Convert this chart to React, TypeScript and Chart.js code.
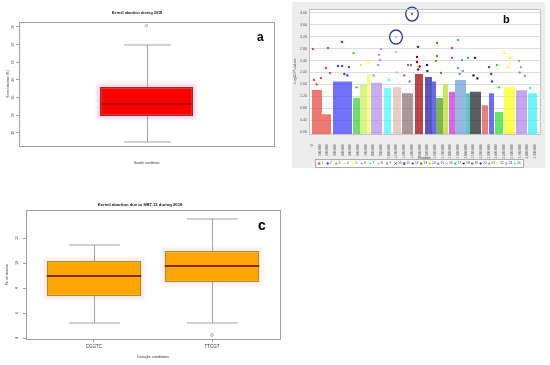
import React, { useEffect, useRef } from "react";
import { Chart, registerables } from "chart.js";
Chart.register(...registerables);

const FONT = "'Liberation Sans', Arial, Helvetica, sans-serif";

// ---------------- Panel a data ----------------
const aTitle = "Kernel abortion during 2018";
const aCategories = [""];
const aYTicks = [10, 20, 30, 40, 50, 60, 70];
const aLow = [4.9];
const aQ1 = [19.6];
const aMedian = [26.4];
const aQ3 = [36.0];
const aHigh = [59.8];
const aOutliers = [70.6];

// ---------------- Panel c data ----------------
const cTitle = "Kernel abortion due to HB7.12 during 2018";
const cGroups = ["CGGTC", "TTCGT"];
const cYTicks = [4, 6, 8, 10, 12];
const cLow = [5.2, 5.2];
const cQ1 = [7.36, 8.48];
const cMedian = [8.96, 9.76];
const cQ3 = [10.16, 10.96];
const cHigh = [11.44, 13.52];
const cOutlierGroup = [2];
const cOutlierValue = [4.24];

// ---------------- Panel b data ----------------
const chromosomes = ["1", "2", "3", "4", "5", "6", "7", "8", "9", "10", "11", "12", "13", "14", "15", "16", "17", "18", "19", "20", "21", "22", "23", "24"];
// dense band of markers per chromosome: [start, end] position (Mb) and upper edge (-log10 p)
const bandChrom = [1, 1, 2, 3, 4, 5, 6, 7, 8, 9, 10, 11, 12, 13, 14, 15, 16, 17, 18, 19, 20, 21, 22, 23, 24];
const bandStart = [0, 130, 273, 533, 624, 715, 767, 936, 1053, 1170, 1339, 1469, 1560, 1612, 1703, 1781, 1859, 2002, 2054, 2210, 2301, 2379, 2496, 2652, 2808];
const bandEnd = [130, 247, 520, 624, 715, 754, 910, 1027, 1157, 1313, 1443, 1560, 1612, 1703, 1768, 1859, 2002, 2054, 2197, 2288, 2366, 2483, 2639, 2795, 2925];
const bandTop = [1.41, 0.6, 1.7, 1.15, 1.6, 1.95, 1.65, 1.48, 1.5, 1.3, 1.95, 1.85, 1.7, 1.14, 1.6, 1.35, 1.75, 1.3, 1.35, 0.9, 1.3, 0.67, 1.5, 1.4, 1.3];
// isolated markers above the bands
const hitChrom = [1, 1, 1, 1, 1, 1, 1, 2, 2, 2, 2, 2, 2, 3, 3, 4, 5, 6, 6, 6, 6, 6, 7, 8, 8, 8, 9, 9, 9, 9, 9, 10, 10, 10, 10, 10, 11, 11, 13, 13, 13, 13, 15, 15, 16, 16, 16, 16, 16, 17, 18, 18, 18, 20, 20, 20, 21, 21, 22, 22, 22, 23, 23, 23, 23, 24];
const hitPos = [13, 208, 26, 117, 234, 182, 60, 390, 338, 392, 481, 420, 460, 540, 580, 637, 728, 897, 871, 860, 884, 800, 1000, 1092, 1092, 1100, 1300, 1248, 1287, 1200, 1270, 1378, 1365, 1365, 1400, 1380, 1495, 1500, 1612, 1625, 1625, 1677, 1820, 1820, 1898, 1898, 1950, 1920, 1960, 2028, 2119, 2100, 2150, 2301, 2330, 2340, 2405, 2430, 2500, 2574, 2548, 2691, 2717, 2769, 2700, 2834];
const hitLogP = [2.79, 2.82, 1.75, 1.81, 1.98, 2.15, 1.6, 3.02, 2.22, 2.22, 2.18, 1.95, 1.9, 2.65, 1.5, 2.25, 2.35, 2.79, 2.59, 2.25, 2.42, 1.9, 1.75, 2.69, 3.19, 2.0, 3.96, 2.25, 2.25, 1.9, 1.7, 2.86, 2.52, 2.35, 2.2, 2.1, 2.25, 2.05, 2.39, 2.55, 2.99, 1.98, 2.82, 2.49, 3.09, 2.15, 2.42, 1.95, 2.05, 2.49, 2.49, 1.9, 1.8, 2.18, 1.95, 1.7, 2.25, 1.5, 2.65, 2.49, 2.18, 2.39, 2.18, 1.88, 2.0, 1.48];
const circledHits = [24, 26];
const bYTicks = [0, 0.2, 0.4, 0.6, 0.8, 1.0, 1.2, 1.4, 1.6, 1.8, 2.0, 2.2, 2.4, 2.6, 2.8, 3.0, 3.2, 3.4, 3.6, 3.8, 4.0];
const bXTicks = [0, 100, 200, 300, 400, 500, 600, 700, 800, 900, 1000, 1100, 1200, 1300, 1400, 1500, 1600, 1700, 1800, 1900, 2000, 2100, 2200, 2300, 2400, 2500, 2600, 2700, 2800, 2900];

// styles
const chrColors = ["#e8453c", "#3b3bff", "#3ccf3c", "#c8f060", "#ffff40", "#b48cf0", "#40ffff", "#e0b8b0", "#8c7070", "#a00000", "#1818a8", "#3030e0", "#4c9a10", "#b8dc20", "#d428d4", "#6c9cd8", "#20b0b0", "#1e1e1e", "#e05048", "#3838f0", "#28e028", "#ffff10", "#b084f0", "#30f0f0"];

function withAlpha(hex: string, a: number) {
  const n = parseInt(hex.slice(1), 16);
  return `rgba(${(n >> 16) & 255},${(n >> 8) & 255},${n & 255},${a})`;
}

type BoxData = { low: number[]; q1: number[]; med: number[]; q3: number[]; high: number[] };

function makeBoxPlugin(d: BoxData, st: { halo: string; whisker: string; median: string; medianWidth: number; capRatio: number }) {
  return {
    id: "boxParts",
    beforeDatasetsDraw(chart: any) {
      const ctx = chart.ctx;
      const meta = chart.getDatasetMeta(0);
      ctx.save();
      ctx.filter = "blur(1.5px)";
      ctx.fillStyle = st.halo;
      meta.data.forEach((bar: any) => {
        const top = Math.min(bar.y, bar.base);
        const bot = Math.max(bar.y, bar.base);
        ctx.fillRect(bar.x - bar.width / 2 - 3, top - 3, bar.width + 6, bot - top + 6);
      });
      ctx.restore();
    },
    afterDatasetsDraw(chart: any) {
      const ctx = chart.ctx;
      const ys = chart.scales.y;
      const meta = chart.getDatasetMeta(0);
      ctx.save();
      meta.data.forEach((bar: any, i: number) => {
        const half = bar.width / 2;
        const cap = half * st.capRatio;
        const yHi = ys.getPixelForValue(d.high[i]);
        const yLo = ys.getPixelForValue(d.low[i]);
        const yQ3 = ys.getPixelForValue(d.q3[i]);
        const yQ1 = ys.getPixelForValue(d.q1[i]);
        const yMed = ys.getPixelForValue(d.med[i]);
        const x = Math.round(bar.x) + 0.5;
        ctx.strokeStyle = st.whisker;
        ctx.lineWidth = 0.8;
        ctx.beginPath();
        ctx.moveTo(x, yQ3);
        ctx.lineTo(x, yHi);
        ctx.moveTo(x, yQ1);
        ctx.lineTo(x, yLo);
        ctx.moveTo(x - cap, yHi);
        ctx.lineTo(x + cap, yHi);
        ctx.moveTo(x - cap, yLo);
        ctx.lineTo(x + cap, yLo);
        ctx.stroke();
        ctx.strokeStyle = st.median;
        ctx.lineWidth = st.medianWidth;
        ctx.beginPath();
        ctx.moveTo(bar.x - half, yMed);
        ctx.lineTo(bar.x + half, yMed);
        ctx.stroke();
      });
      ctx.restore();
    },
  };
}

function makeFramePlugin(color: string) {
  return {
    id: "frame",
    afterDraw(chart: any) {
      const { left, top, right, bottom } = chart.chartArea;
      const ctx = chart.ctx;
      ctx.save();
      ctx.strokeStyle = color;
      ctx.lineWidth = 1;
      ctx.strokeRect(Math.round(left) + 0.5, Math.round(top) + 0.5, Math.round(right - left), Math.round(bottom - top));
      ctx.restore();
    },
  };
}

function buildA() {
  return {
    type: "bar",
    data: {
      labels: aCategories,
      datasets: [
        {
          type: "bar",
          data: aQ1.map((q, i) => [q, aQ3[i]]),
          backgroundColor: "#ff0000",
          borderColor: "#8a3b12",
          borderWidth: 1.2,
          borderSkipped: false,
          barPercentage: 0.365,
          categoryPercentage: 1,
        },
        {
          type: "line",
          data: aOutliers,
          showLine: false,
          pointRadius: 1.4,
          pointBorderColor: "#808080",
          pointBackgroundColor: "rgba(0,0,0,0)",
          pointBorderWidth: 0.6,
        },
      ],
    },
    options: {
      animation: false,
      responsive: false,
      layout: { padding: { left: 0, right: 16, top: 0, bottom: 0 } },
      plugins: {
        legend: { display: false },
        tooltip: { enabled: false },
        title: { display: true, text: aTitle, color: "#111", font: { size: 3.8, weight: "bold", family: FONT }, padding: { top: 11, bottom: 6.4 } },
      },
      scales: {
        x: {
          afterFit: (s: any) => { s.height = 29; },
          grid: { display: false },
          border: { display: false },
          ticks: { display: false },
          title: { display: true, text: "Growth conditions", color: "#333", font: { size: 3.2, family: FONT }, padding: { top: 0, bottom: 10 } },
        },
        y: {
          min: 2.6,
          max: 72.8,
          afterBuildTicks: (s: any) => { s.ticks = aYTicks.map((v) => ({ value: v })); },
          afterFit: (s: any) => { s.width = 19; },
          grid: { drawOnChartArea: false, tickLength: 3, color: "#8a8a8a", lineWidth: 0.8 },
          border: { display: false },
          ticks: { font: { size: 3.5, family: FONT }, color: "#444", minRotation: 90, maxRotation: 90, crossAlign: "center", padding: 1.5 },
          title: { display: true, text: "Kernel abortion (%)", color: "#333", font: { size: 3.2, family: FONT }, padding: { top: 6, bottom: 0 } },
        },
      },
    },
    plugins: [
      makeBoxPlugin({ low: aLow, q1: aQ1, med: aMedian, q3: aQ3, high: aHigh }, { halo: "rgba(255,180,240,0.6)", whisker: "#8c8c8c", median: "#6b1a00", medianWidth: 1, capRatio: 0.5 }),
      makeFramePlugin("#a0a0a0"),
    ],
  };
}

function buildC() {
  return {
    type: "bar",
    data: {
      datasets: [
        {
          type: "bar",
          data: cGroups.map((_, i) => ({ x: i + 1, y: [cQ1[i], cQ3[i]] })),
          backgroundColor: "#ffa500",
          borderColor: "#9a9a1a",
          borderWidth: 1.2,
          borderSkipped: false,
          barPercentage: 0.8,
          categoryPercentage: 1,
        },
        {
          type: "scatter",
          data: cOutlierGroup.map((g, i) => ({ x: g, y: cOutlierValue[i] })),
          pointRadius: 1.4,
          pointBorderColor: "#808080",
          pointBackgroundColor: "rgba(0,0,0,0)",
          pointBorderWidth: 0.6,
        },
      ],
    },
    options: {
      animation: false,
      responsive: false,
      layout: { padding: { left: 0, right: 10, top: 0, bottom: 0 } },
      plugins: {
        legend: { display: false },
        tooltip: { enabled: false },
        title: { display: true, text: cTitle, color: "#111", font: { size: 4.2, weight: "bold", family: FONT }, padding: { top: 12.5, bottom: 2.46 } },
      },
      scales: {
        x: {
          type: "linear",
          min: 0.424,
          max: 2.576,
          offset: false,
          afterBuildTicks: (s: any) => { s.ticks = cGroups.map((_, i) => ({ value: i + 1 })); },
          afterFit: (s: any) => { s.height = 26; },
          grid: { drawOnChartArea: false, tickLength: 3, color: "#8a8a8a", lineWidth: 0.8, offset: false },
          border: { display: false },
          ticks: { autoSkip: false, maxRotation: 0, font: { size: 4.5, family: FONT }, color: "#333", padding: 2, callback: (v: any) => cGroups[Math.round(v) - 1] },
          title: { display: true, text: "Drought conditions", color: "#333", font: { size: 3.8, family: FONT }, padding: { top: 0, bottom: 5.7 } },
        },
        y: {
          min: 3.92,
          max: 14.24,
          afterBuildTicks: (s: any) => { s.ticks = cYTicks.map((v) => ({ value: v })); },
          afterFit: (s: any) => { s.width = 26; },
          grid: { drawOnChartArea: false, tickLength: 3, color: "#8a8a8a", lineWidth: 0.8 },
          border: { display: false },
          ticks: { font: { size: 3.8, family: FONT }, color: "#444", minRotation: 90, maxRotation: 90, crossAlign: "center", padding: 3.5 },
          title: { display: true, text: "Kernel abortion", color: "#333", font: { size: 3.2, family: FONT }, padding: { top: 5.5, bottom: 0 } },
        },
      },
    },
    plugins: [
      makeBoxPlugin({ low: cLow, q1: cQ1, med: cMedian, q3: cQ3, high: cHigh }, { halo: "rgba(255,220,238,0.7)", whisker: "#8c8c8c", median: "#7b2d00", medianWidth: 2, capRatio: 0.54 }),
      makeFramePlugin("#a0a0a0"),
    ],
  };
}

function drawMarker(ctx: CanvasRenderingContext2D, shape: number, x: number, y: number, r: number, color: string) {
  ctx.fillStyle = color;
  ctx.strokeStyle = color;
  ctx.lineWidth = 0.8;
  ctx.beginPath();
  switch (shape % 6) {
    case 0:
      ctx.rect(x - r, y - r, 2 * r, 2 * r);
      ctx.fill();
      break;
    case 1:
      ctx.moveTo(x, y - r * 1.3);
      ctx.lineTo(x + r * 1.3, y);
      ctx.lineTo(x, y + r * 1.3);
      ctx.lineTo(x - r * 1.3, y);
      ctx.closePath();
      ctx.fill();
      break;
    case 2:
      ctx.moveTo(x, y - r * 1.3);
      ctx.lineTo(x + r * 1.2, y + r);
      ctx.lineTo(x - r * 1.2, y + r);
      ctx.closePath();
      ctx.fill();
      break;
    case 3:
      ctx.moveTo(x - r, y - r);
      ctx.lineTo(x + r, y + r);
      ctx.moveTo(x + r, y - r);
      ctx.lineTo(x - r, y + r);
      ctx.stroke();
      break;
    case 4:
      ctx.moveTo(x - r, y - r);
      ctx.lineTo(x + r, y + r);
      ctx.moveTo(x + r, y - r);
      ctx.lineTo(x - r, y + r);
      ctx.moveTo(x, y - r * 1.2);
      ctx.lineTo(x, y + r * 1.2);
      ctx.stroke();
      break;
    default:
      ctx.arc(x, y, r, 0, Math.PI * 2);
      ctx.fill();
  }
}

function buildB() {
  const bgPlugin = {
    id: "bg",
    beforeDraw(chart: any) {
      const ctx = chart.ctx;
      const a = chart.chartArea;
      ctx.save();
      ctx.fillStyle = "#ececec";
      ctx.fillRect(0, 0, chart.width, chart.height);
      ctx.fillStyle = "#ffffff";
      ctx.fillRect(a.left, a.top, a.right - a.left, a.bottom - a.top);
      ctx.restore();
    },
  };
  const circlePlugin = {
    id: "circles",
    afterDatasetsDraw(chart: any) {
      const ctx = chart.ctx;
      const xs = chart.scales.x;
      const ys = chart.scales.y;
      ctx.save();
      ctx.strokeStyle = "#23408e";
      ctx.lineWidth = 1.3;
      circledHits.forEach((i) => {
        const px = xs.getPixelForValue(hitPos[i]);
        const py = ys.getPixelForValue(hitLogP[i]);
        ctx.beginPath();
        ctx.ellipse(px, py, 6.3, 7, 0, 0, Math.PI * 2);
        ctx.stroke();
      });
      ctx.restore();
    },
  };
  const legendPlugin = {
    id: "chromLegend",
    afterDraw(chart: any) {
      const ctx = chart.ctx;
      const x0 = 23;
      const y0 = 157;
      const w = 208;
      const h = 8;
      ctx.save();
      ctx.fillStyle = "#ffffff";
      ctx.fillRect(x0, y0, w, h);
      ctx.strokeStyle = "#9a9a9a";
      ctx.lineWidth = 0.8;
      ctx.strokeRect(x0 + 0.5, y0 + 0.5, w, h);
      const step = (w - 4) / chromosomes.length;
      ctx.font = `3.4px ${FONT}`;
      ctx.textBaseline = "middle";
      chromosomes.forEach((name, i) => {
        const ix = x0 + 3 + i * step;
        drawMarker(ctx, i, ix + 1.2, y0 + h / 2 + 0.5, 1.1, chrColors[i]);
        ctx.fillStyle = "#444";
        ctx.fillText(name, ix + 3.4, y0 + h / 2 + 0.5);
      });
      ctx.restore();
    },
  };

  const bands = bandStart.map((s, i) => ({
    type: "line",
    data: [
      { x: s, y: bandTop[i] },
      { x: bandEnd[i], y: bandTop[i] },
    ],
    fill: "start",
    backgroundColor: withAlpha(chrColors[bandChrom[i] - 1], 0.72),
    borderColor: "rgba(0,0,0,0)",
    borderWidth: 0,
    pointRadius: 0,
  }));

  return {
    type: "scatter",
    data: {
      datasets: [
        {
          type: "scatter",
          data: hitPos.map((p, i) => ({ x: p, y: hitLogP[i] })),
          pointRadius: 1.2,
          pointBackgroundColor: hitChrom.map((c) => chrColors[c - 1]),
          pointBorderColor: "rgba(0,0,0,0)",
          pointBorderWidth: 0,
        },
        ...bands,
      ],
    },
    options: {
      animation: false,
      responsive: false,
      layout: { padding: { left: 0, right: 5, top: 7, bottom: 0 } },
      plugins: { legend: { display: false }, tooltip: { enabled: false } },
      scales: {
        x: {
          type: "linear",
          min: -39,
          max: 2964,
          afterBuildTicks: (s: any) => { s.ticks = bXTicks.map((v) => ({ value: v })); },
          afterFit: (s: any) => { s.height = 33.6; },
          grid: { display: false },
          border: { display: false },
          ticks: {
            autoSkip: false,
            minRotation: 90,
            maxRotation: 90,
            font: { size: 3.2, family: FONT },
            color: "#666",
            padding: 2,
            callback: (v: any) => (Number(v) * 1000).toLocaleString("en-US"),
          },
          title: { display: true, text: "Position", color: "#444", font: { size: 3.6, family: FONT }, padding: { top: 0, bottom: 8.3 } },
        },
        y: {
          min: -0.08,
          max: 4.13,
          afterBuildTicks: (s: any) => { s.ticks = bYTicks.map((v) => ({ value: v })); },
          afterFit: (s: any) => { s.width = 17; },
          grid: { color: "#d6d6d6", lineWidth: 0.8, drawTicks: false },
          border: { display: false },
          ticks: { font: { size: 3.6, family: FONT }, color: "#555", padding: 2, callback: (v: any) => Number(v).toFixed(2) },
          title: { display: true, text: "-Log10 P-values", color: "#444", font: { size: 3.6, family: FONT }, padding: { top: 1.3, bottom: 0 } },
        },
      },
    },
    plugins: [bgPlugin, circlePlugin, legendPlugin, makeFramePlugin("#c4c4c4")],
  };
}

function ChartCanvas(props: { left: number; top: number; width: number; height: number; build: () => any }) {
  const ref = useRef<HTMLCanvasElement>(null);
  useEffect(() => {
    const chart = new Chart(ref.current as HTMLCanvasElement, props.build());
    return () => chart.destroy();
  }, []);
  return (
    <canvas
      ref={ref}
      width={props.width}
      height={props.height}
      style={{ position: "absolute", left: props.left, top: props.top, width: props.width, height: props.height }}
    />
  );
}

const letterStyle = (left: number, top: number, size: number): React.CSSProperties => ({
  position: "absolute",
  left,
  top,
  font: `bold ${size}px ${FONT}`,
  lineHeight: 1,
  color: "#000",
});

export default function App() {
  return (
    <div style={{ position: "absolute", left: 0, top: 0, width: 550, height: 365, background: "#fff", overflow: "hidden" }}>
      <ChartCanvas left={0} top={0} width={290} height={175} build={buildA} />
      <ChartCanvas left={292} top={2} width={253} height={166} build={buildB} />
      <ChartCanvas left={0} top={190} width={290} height={175} build={buildC} />
      <div style={letterStyle(257, 31, 12)}>a</div>
      <div style={letterStyle(503, 13.6, 11)}>b</div>
      <div style={letterStyle(258, 218, 14)}>c</div>
    </div>
  );
}
